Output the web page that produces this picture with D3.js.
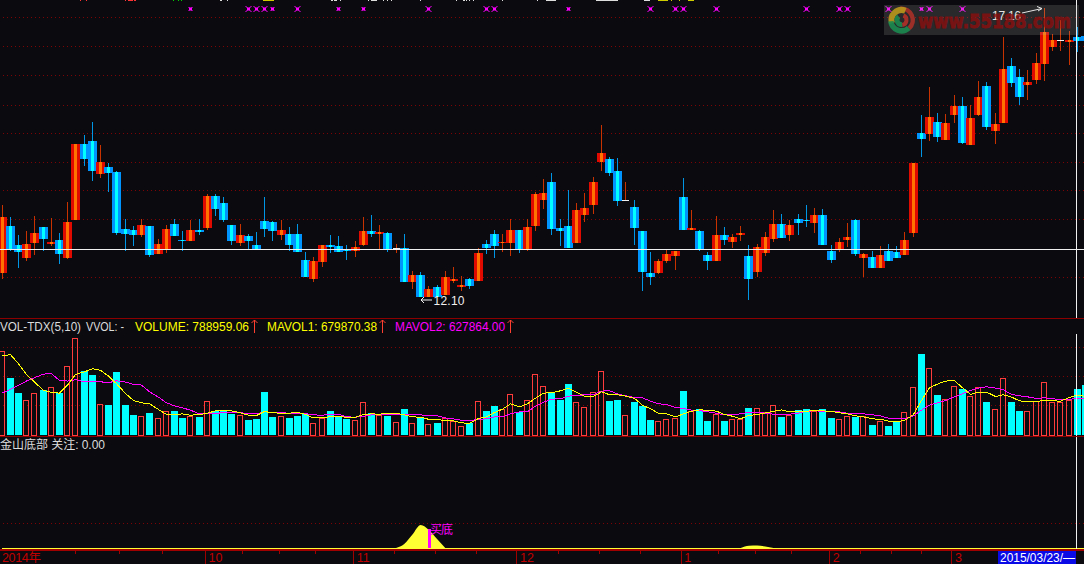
<!DOCTYPE html>
<html><head><meta charset="utf-8">
<style>html,body{margin:0;padding:0;background:#0b0a0e;overflow:hidden}svg{display:block}text{font-family:"Liberation Sans","Noto Sans CJK SC",sans-serif;font-size:12px}</style>
<script src="https://cdn.jsdelivr.net/npm/d3@7/dist/d3.min.js"></script>
</head><body><script>
const highs=[13.71,13.50,13.19,13.26,13.52,13.33,13.49,13.22,13.77,14.78,14.94,15.17,14.76,14.45,14.31,13.47,13.35,13.47,13.35,13.12,13.36,13.47,13.26,13.45,13.47,13.91,13.91,13.85,13.36,13.38,13.21,13.24,13.85,13.43,13.45,13.33,13.38,12.89,12.80,13.01,13.19,13.17,13.01,13.08,13.50,13.54,13.36,13.24,13.03,13.21,12.56,12.54,12.30,12.31,12.56,12.63,12.47,12.44,12.96,13.10,13.28,13.21,13.47,13.28,13.47,13.94,14.17,14.27,13.47,13.98,13.75,13.92,14.20,15.11,14.55,14.54,14.12,13.80,13.26,12.89,12.77,12.94,12.91,14.19,13.63,13.28,12.89,13.52,13.33,13.21,13.35,13.01,13.03,13.24,13.63,13.56,13.45,13.56,13.71,13.66,13.64,13.01,13.14,13.40,13.47,12.87,12.91,13.00,13.03,13.00,13.24,14.45,15.29,15.78,15.32,15.31,15.64,15.60,15.46,15.88,15.87,15.32,16.65,16.29,16.09,16.08,16.37,17.16,16.71,16.95,16.76,16.83,16.67];
const lows=[12.42,12.91,12.61,12.73,12.84,12.91,13.00,12.68,12.77,13.45,14.40,14.13,14.19,13.94,13.19,12.91,13.00,13.15,12.80,12.86,12.87,13.17,12.91,13.08,13.19,13.28,13.52,13.42,13.01,13.00,12.94,12.94,13.15,13.08,13.10,12.91,12.89,12.45,12.37,12.63,12.87,12.89,12.75,12.80,13.00,13.15,12.94,12.89,12.87,12.37,12.24,12.10,12.10,12.10,12.14,12.35,12.21,12.24,12.38,12.86,12.79,12.89,12.82,12.87,12.91,13.26,13.64,13.19,13.00,12.96,13.05,13.42,13.56,14.31,14.22,13.70,13.78,13.01,12.21,12.31,12.51,12.70,12.58,13.28,13.28,12.91,12.58,12.73,13.01,12.96,13.08,12.05,12.45,12.82,13.07,13.14,13.08,13.19,13.33,13.22,13.01,12.70,12.89,12.98,12.82,12.45,12.61,12.61,12.73,12.79,12.84,13.15,14.55,14.83,14.82,14.85,15.15,14.78,14.76,15.27,15.03,14.78,15.15,15.78,15.46,15.55,15.83,15.88,16.41,16.41,16.16,16.39,16.58];
const opens=[12.52,13.35,13.01,12.79,13.05,13.33,13.03,13.10,12.79,13.45,14.78,14.83,14.26,14.38,14.29,13.29,13.28,13.19,13.35,12.86,12.94,13.38,13.10,13.08,13.28,13.31,13.87,13.75,13.36,13.05,13.17,13.01,13.43,13.42,13.19,13.21,13.21,12.75,12.42,12.72,13.01,13.00,12.93,12.91,13.01,13.26,13.21,13.22,12.96,12.96,12.37,12.49,12.10,12.28,12.14,12.38,12.28,12.42,12.38,13.03,13.21,13.05,13.05,13.28,12.94,13.35,13.80,14.12,13.31,13.35,13.05,13.54,13.71,14.47,14.52,14.31,13.80,13.68,13.26,12.52,12.52,12.73,12.82,13.85,13.28,13.26,12.84,12.73,13.19,13.07,13.19,12.82,12.54,12.87,13.12,13.38,13.19,13.47,13.45,13.40,13.54,12.91,12.94,13.10,13.45,12.79,12.80,12.61,12.91,12.89,12.84,13.22,14.97,14.96,15.17,14.85,15.29,15.45,14.76,15.29,15.80,15.01,15.15,16.15,15.95,15.81,15.90,16.18,16.48,16.60,16.57,16.65,16.67];
const closes=[13.50,12.94,12.89,13.03,13.22,13.12,13.07,12.86,13.42,14.78,14.52,14.31,14.47,14.27,13.22,13.21,13.19,13.36,12.84,13.03,13.29,13.17,13.08,13.28,13.24,13.87,13.64,13.45,13.08,13.19,13.08,12.94,13.29,13.26,13.28,13.01,12.89,12.45,12.73,13.01,12.98,12.89,12.91,12.98,13.26,13.21,13.24,12.94,12.96,12.37,12.49,12.10,12.24,12.10,12.45,12.42,12.31,12.30,12.87,12.96,13.00,13.07,13.28,12.94,13.33,13.91,13.92,13.29,13.26,12.96,13.63,13.66,14.12,14.62,14.27,13.78,13.80,13.31,12.54,12.45,12.73,12.86,12.91,13.28,13.31,12.93,12.73,13.19,13.10,13.15,13.22,12.42,12.98,13.15,13.38,13.14,13.36,13.40,13.43,13.54,13.01,12.75,13.07,13.15,12.86,12.86,12.61,12.84,12.73,12.79,13.10,14.45,14.87,15.25,14.90,15.15,15.45,14.80,15.24,15.60,15.08,15.13,16.09,15.85,15.60,15.87,16.20,16.74,16.60,16.60,16.60,16.58,16.58];
const volumes=[1443,965,707,598,719,759,822,707,1184,1667,1086,1017,529,512,1069,517,345,322,379,288,414,397,293,322,310,581,414,397,362,340,259,276,724,310,322,293,328,357,202,288,397,328,276,259,564,379,340,328,219,448,202,298,184,207,288,229,150,207,581,414,483,448,702,391,598,1046,840,707,586,862,564,478,736,1098,569,586,340,552,500,259,236,271,288,741,414,448,241,357,241,271,271,465,460,391,512,310,340,431,448,409,448,293,271,322,310,328,172,236,155,219,391,822,1379,1150,672,615,840,776,667,822,552,443,978,552,414,409,581,909,564,564,598,789,845];
const mavol1=[1351,1374,1218,1034,902,759,724,713,851,1034,1080,1132,1103,1006,874,707,586,546,529,431,345,345,356,333,345,368,408,408,408,374,333,328,397,374,368,368,385,345,287,287,310,310,299,299,345,356,351,368,368,339,305,299,264,264,236,236,201,195,276,305,379,437,529,477,529,626,713,718,753,799,724,661,655,736,684,684,661,621,506,443,368,356,305,356,402,425,420,402,345,316,270,328,345,374,402,425,391,391,402,414,408,397,374,356,322,305,270,264,230,224,241,345,586,805,868,920,925,805,690,730,730,655,684,644,580,563,575,580,580,575,638,680,655];
const mavol2=[718,776,845,920,977,1040,1046,931,920,943,908,914,908,891,925,902,862,851,736,644,546,494,460,420,356,368,368,374,374,379,356,356,391,385,374,368,362,362,339,333,351,351,305,299,316,339,345,345,345,339,339,339,322,322,287,270,247,236,264,270,305,305,356,391,391,489,557,609,615,661,672,684,684,747,753,701,667,638,632,575,529,517,466,448,420,414,391,368,339,339,356,385,385,368,351,339,351,368,402,408,402,397,391,368,356,356,339,322,282,270,270,322,420,506,546,586,649,701,759,799,822,799,770,690,667,649,621,632,615,603,603,628,609];
const priceGrid=[17.00,16.49,15.98,15.47,14.97,14.46,13.97,13.46,12.95,12.45];
const volumeGrid=[500,1000,1500];
const signalIdx=[23,30,31,32,33,36,41,44,52,59,60,69,79,82,83,87,98,102,103,108,112,113,117];
const smallSignalIdx=[23,33,41,44,69,112];
const indicatorIdx=[48,49,50,51,52,53,54, 90,91,92,93,94];
const indicatorVal=[0,16,54,92,72,36,0, 0,9,10,6,0];
const majorTicks=[24.85,42.9,62.8,82.8,100.9,115.8];
const majorLabels=["10","11","12","1","2","3"];
const minorTicks=[9,14.4,19.6,29.4,33.9,38.3,47.9,52.9,57.9,67.9,72.8,77.8,87.3,91.9,96.3,104.6,108.4,112.1];
const topFragments=[[80,81,"#f33"],[86,87,"#f33"],[125,126,"#f33"],[128,133,"#f33"],[134,136,"#f33"],[173,174,"#0c0"],[178,179,"#0c0"],[181,182,"#0c0"],[220,222,"#ddd"],[227,228,"#ddd"],[263,274,"#cc0"],[331,333,"#ddd"],[334,337,"#ddd"],[340,341,"#ddd"],[368,369,"#ddd"],[371,377,"#ddd"],[383,384,"#ddd"],[387,388,"#ddd"],[391,392,"#ddd"],[420,421,"#ddd"],[456,457,"#ddd"],[463,465,"#ddd"],[466,467,"#ddd"],[469,470,"#ddd"],[473,474,"#ddd"],[502,503,"#ddd"],[537,538,"#ddd"],[546,556,"#ddd"],[596,618,"#ddd"],[644,650,"#ddd"],[658,668,"#cc0"],[671,672,"#cc0"],[679,680,"#cc0"],[688,694,"#cc0"]];

const W=1084,H=564;
const svg=d3.select("body").append("svg").attr("width",W).attr("height",H);
const x=d3.scaleLinear().domain([0,132]).range([2.1,2.1+8.207*132]);
const px=i=>Math.floor(x(i));
const y=d3.scaleLinear().domain([17.3,12.05]).range([0,300]);
const ry=v=>Math.round(y(v));
const yv=d3.scaleLinear().domain([0,1500]).range([434.6,347.3]);
const yi=d3.scaleLinear().domain([0,100]).range([548,523]);
const n=highs.length, data=d3.range(n).map(i=>({i,h:highs[i],l:lows[i],o:opens[i],c:closes[i],v:volumes[i]}));
const dir=d=>d.c>d.o?1:(d.c<d.o?-1:0);
const isUp=d=>dir(d)>=0;

const defs=svg.append("defs");
function grad(id,e,m){const g=defs.append("linearGradient").attr("id",id);
 [[0,e],[.3,e],[.38,m],[.62,m],[.7,e],[1,e]].forEach(s=>g.append("stop").attr("offset",s[0]).attr("stop-color",s[1]));}
grad("gr","#e00a00","#ff7400");grad("gc","#0094ff","#00ffff");

svg.append("rect").attr("width",W).attr("height",H).attr("fill","#0b0a0e");

// dotted grids
const dots=(sel,ys)=>sel.selectAll(null).data(ys).join("line").attr("x1",3).attr("x2",W)
 .attr("y1",d=>d).attr("y2",d=>d).attr("stroke","#7c0404").attr("stroke-dasharray","1 3").attr("shape-rendering","crispEdges");
dots(svg.append("g"),priceGrid.map(p=>Math.round(y(p))+.5));
dots(svg.append("g"),volumeGrid.map(v=>Math.floor(yv(v))+.5));
dots(svg.append("g"),[Math.round(yi(100))+.5]);

// clipped label fragments at very top
svg.append("g").selectAll("rect").data(topFragments).join("rect").attr("x",d=>d[0]).attr("y",0).attr("width",d=>d[1]-d[0]).attr("height",1).attr("fill",d=>d[2]);

// signal markers
const sm=svg.append("g").selectAll("g").data(signalIdx).join("g").attr("transform",d=>`translate(${px(d)+.5},9)`);
sm.append("path").attr("d",d=>{const r=smallSignalIdx.includes(d)?2:3;return `M${-r},${-r}L${r},${r}M${-r},${r}L${r},${-r}`}).attr("stroke","#ff00ff").attr("stroke-width",1).attr("fill","none");
sm.append("rect").attr("x",-1.5).attr("y",-1.5).attr("width",3).attr("height",3).attr("fill","#ff00ff");

// candles
const cg=svg.append("g").attr("shape-rendering","crispEdges");
const cs=cg.selectAll("g").data(data).join("g");
cs.append("line").attr("x1",d=>px(d.i)+.5).attr("x2",d=>px(d.i)+.5)
 .attr("y1",d=>ry(d.h)).attr("y2",d=>ry(d.l)).attr("stroke",d=>isUp(d)?"#c83200":"#0096e6");
cs.append("rect").attr("x",d=>px(d.i)-(dir(d)===0?3:4)).attr("width",d=>dir(d)===0?7:9)
 .attr("y",d=>ry(Math.max(d.o,d.c))).attr("height",d=>Math.max(1,ry(Math.min(d.o,d.c))-ry(Math.max(d.o,d.c))))
 .attr("fill",d=>dir(d)>0?"url(#gr)":dir(d)<0?"url(#gc)":"#f0f0f0");

// price extremes
const note=svg.append("g").attr("fill","#f0f0f0");
note.append("text").attr("x",433.5).attr("y",305).attr("textLength",31).text("12.10");
note.append("path").attr("d","M432,300H421M424,297L421,300L424,303").attr("stroke","#f0f0f0").attr("fill","none");
note.append("text").attr("x",992).attr("y",20).attr("textLength",29).text("17.16");
note.append("path").attr("d","M1022,13L1042,8.5M1037,6.5L1042,8.5L1038,11").attr("stroke","#f0f0f0").attr("fill","none");

// cursor horizontal
svg.append("line").attr("x1",0).attr("x2",W).attr("y1",249.5).attr("y2",249.5).attr("stroke","#f0f0f0").attr("shape-rendering","crispEdges");

// panel dividers
[318,436].forEach(a=>svg.append("line").attr("x1",0).attr("x2",W).attr("y1",a+.5).attr("y2",a+.5).attr("stroke","#8c0000").attr("shape-rendering","crispEdges"));

// volume panel
const vg=svg.append("g").attr("shape-rendering","crispEdges");
vg.selectAll("rect").data(data).join("rect")
 .attr("x",d=>isUp(d)?px(d.i)-2.5:px(d.i)-3)
 .attr("width",d=>isUp(d)?5:7)
 .attr("y",d=>Math.round(yv(d.v))+(isUp(d)?.5:0))
 .attr("height",d=>435-Math.round(yv(d.v))-(isUp(d)?.5:0))
 .attr("fill",d=>isUp(d)?"none":"#00ffff")
 .attr("stroke",d=>isUp(d)?"#ff3c3c":"none");
const line=d3.line().x((d,i)=>px(i)+.5).y(d=>yv(d)).curve(d3.curveLinear);
svg.append("path").attr("d",line(mavol2)).attr("fill","none").attr("stroke","#ff00ff").attr("shape-rendering","crispEdges");
svg.append("path").attr("d",line(mavol1)).attr("fill","none").attr("stroke","#ffff00").attr("shape-rendering","crispEdges");

// volume header band
svg.append("rect").attr("x",0).attr("y",319).attr("width",W).attr("height",15).attr("fill","#0b0a0e");
const hdr=[["VOL-TDX(5,10)",-1,81,"#dcdcdc"],["VVOL: -",86,38,"#dcdcdc"],["VOLUME: "+d3.format(".2f")(788959.06),135,114,"#ffff00"],["MAVOL1: "+d3.format(".2f")(679870.38),267,110,"#ffff00"],["MAVOL2: "+d3.format(".2f")(627864.00),395,110,"#ff00ff"]];
svg.append("g").selectAll("text").data(hdr).join("text").attr("x",d=>Math.max(0,d[1])).attr("y",331).attr("textLength",d=>d[2]).attr("lengthAdjust","spacingAndGlyphs").attr("fill",d=>d[3]).text(d=>d[0]);
svg.append("g").selectAll("path").data([254.5,382.5,510.5]).join("path").attr("d",d=>`M${d},333V320M${d-3},323L${d},320L${d+3},323`).attr("stroke","#ff4030").attr("fill","none");

// indicator panel
svg.append("text").attr("x",0).attr("y",449).attr("fill","#dcdcdc").attr("textLength",105).text("金山底部 关注: 0.00");
const area=d3.area().x(d=>x(d[0])).y0(yi(0)).y1(d=>yi(d[1])).curve(d3.curveMonotoneX);
const hill=indicatorIdx.map((d,i)=>[d,indicatorVal[i]]);
svg.append("path").attr("d",area(hill.slice(0,7))).attr("fill","#ffff33");
svg.append("path").attr("d",area(hill.slice(7))).attr("fill","#ffff33");
svg.append("rect").attr("x",428).attr("y",529).attr("width",3).attr("height",20).attr("fill","#ff00ff");
svg.append("text").attr("x",430).attr("y",534).attr("fill","#ff00ff").style("font-family","'Noto Sans CJK SC'").attr("textLength",23).text("买底");
svg.append("rect").attr("x",2).attr("width",W).attr("y",548).attr("height",1).attr("fill","#ffff33");
svg.append("rect").attr("x",0).attr("width",W).attr("y",549).attr("height",2).attr("fill","#a00000");

// cursor vertical
[[0,318],[334,436],[437,549]].forEach(s=>svg.append("line").attr("x1",1076.5).attr("x2",1076.5).attr("y1",s[0]).attr("y2",s[1]).attr("stroke","#f0f0f0").attr("shape-rendering","crispEdges"));

// time axis
const xt=x.copy().range([1.1,1.1+8.207*132]);
const ax=svg.append("g").attr("transform","translate(0,550.5)").attr("shape-rendering","crispEdges")
 .call(d3.axisBottom(xt).tickValues(majorTicks).tickSize(14).tickFormat((d,i)=>majorLabels[i]));
ax.select(".domain").remove();
ax.selectAll("line").attr("stroke","#a00000");
ax.selectAll("text").attr("fill","#c00000").attr("text-anchor","start").attr("x",3).attr("y",11).attr("dy",0).style("font-size","12.5px");
const ax2=svg.append("g").attr("transform","translate(0,550.5)").attr("shape-rendering","crispEdges")
 .call(d3.axisBottom(xt).tickValues(minorTicks).tickSize(3).tickFormat(""));
ax2.select(".domain").remove();
ax2.selectAll("line").attr("stroke","#a00000");
svg.append("text").attr("x",2).attr("y",561.5).attr("fill","#c00000").style("font-size","12.5px").attr("textLength",39).text("2014年");
svg.append("rect").attr("x",998).attr("y",551).attr("width",78).attr("height",13).attr("fill","#0a0ae6");
svg.append("text").attr("x",1000).attr("y",561.5).attr("fill","#ffffff").attr("textLength",75).attr("lengthAdjust","spacingAndGlyphs").text("2015/03/23/—");

// watermark
const wm=svg.append("g");
wm.append("rect").attr("x",884).attr("y",5).attr("width",195).attr("height",30).attr("fill","#b0b0b0").attr("opacity",.18);
const arc=d3.arc();
[[9,13.5,-0.1,2.4,"#a83028"],[7,13,-1.9,0.4,"#b8981c"],[8,13.5,2.4,4.6,"#1a8a50"],[3,7,0.4,3,"#b03028"],[2,7,3,5.6,"#1a8a50"]].forEach(a=>
 wm.append("path").attr("transform","translate(901.5,20)").attr("d",arc({innerRadius:a[0],outerRadius:a[1],startAngle:a[2],endAngle:a[3]})).attr("fill",a[4]).attr("opacity",.9));
wm.append("text").attr("x",918).attr("y",28).attr("fill","#8c0e0e").attr("stroke","#8c0e0e").attr("stroke-width",.9).attr("opacity",.8).attr("textLength",153).attr("lengthAdjust","spacingAndGlyphs").style("font-family","'DejaVu Sans'").style("font-weight","bold").style("font-size","20px").text("www.55188.com");
</script></body></html>
